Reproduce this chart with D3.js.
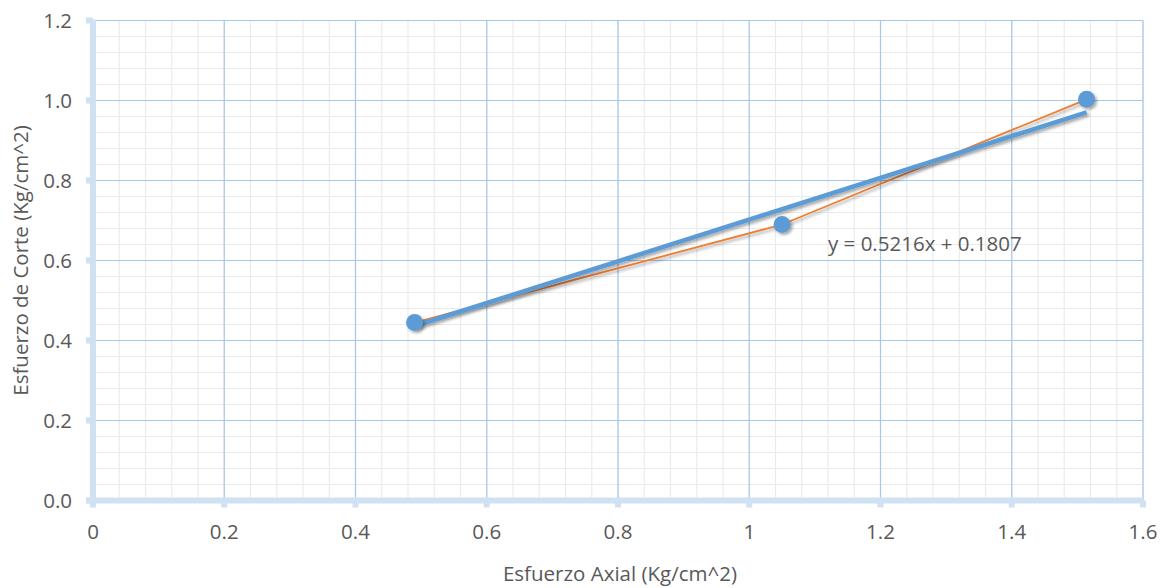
<!DOCTYPE html>
<html>
<head>
<meta charset="utf-8">
<script src="https://cdn.jsdelivr.net/npm/d3@7"></script>
<style>
  body { margin: 0; background: #fff; }
  text { font-family: "Open Sans", sans-serif; fill: #595959; }
</style>
</head>
<body>
<div class="container"></div>
<script>
let width = 1160
let height = 588
let margin = { left: 93, right: 17, top: 20.5, bottom: 87.5 }
let fontSize = 20.5

// data
const axial = [0.49, 1.05, 1.514]
const corte = [0.445, 0.69, 1.003]
const slope = 0.5216
const intercept = 0.1807
const xTicks = [0, 0.2, 0.4, 0.6, 0.8, 1, 1.2, 1.4, 1.6]
const yTicks = [0, 0.2, 0.4, 0.6, 0.8, 1.0, 1.2]
const equation = 'y = 0.5216x + 0.1807'

let svg = d3.select('.container')
    .append('svg')
    .attr('width', width)
    .attr('height', height)

let x = d3.scaleLinear().domain([0, 1.6]).range([margin.left, width - margin.right])
let y = d3.scaleLinear().domain([0, 1.2]).range([height - margin.bottom, margin.top])

let defs = svg.append('defs')
let shadow = defs.append('filter').attr('id', 'shadow')
    .attr('x', '-50%').attr('y', '-50%').attr('width', '200%').attr('height', '200%')
shadow.append('feDropShadow')
    .attr('dx', 2).attr('dy', 2).attr('stdDeviation', 1.5)
    .attr('flood-color', '#000').attr('flood-opacity', 0.35)

// minor grid
let xMinor = d3.range(0, 1.6001, 0.04)
let yMinor = d3.range(0, 1.2001, 0.04)
svg.append('g').selectAll('line').data(xMinor).enter().append('line')
    .attr('x1', d => x(d)).attr('x2', d => x(d))
    .attr('y1', y(0)).attr('y2', y(1.2))
    .attr('stroke', '#ebebeb').attr('stroke-width', 1.2)
svg.append('g').selectAll('line').data(yMinor).enter().append('line')
    .attr('x1', x(0)).attr('x2', x(1.6))
    .attr('y1', d => y(d)).attr('y2', d => y(d))
    .attr('stroke', '#ebebeb').attr('stroke-width', 1.2)

// major grid
svg.append('g').selectAll('line').data(xTicks).enter().append('line')
    .attr('x1', d => x(d)).attr('x2', d => x(d))
    .attr('y1', y(0)).attr('y2', y(1.2))
    .attr('stroke', '#a6c8ea').attr('stroke-width', 1.2)
svg.append('g').selectAll('line').data(yTicks).enter().append('line')
    .attr('x1', x(0)).attr('x2', x(1.6))
    .attr('y1', d => y(d)).attr('y2', d => y(d))
    .attr('stroke', '#a6c8ea').attr('stroke-width', 1.2)

// axes (thick light blue lines with square ticks)
let axisColor = '#cfe1f3'
svg.append('line')
    .attr('x1', x(0)).attr('x2', x(0))
    .attr('y1', y(1.2) - 1).attr('y2', y(0) + 3)
    .attr('stroke', axisColor).attr('stroke-width', 6)
svg.append('line')
    .attr('x1', x(0) - 7).attr('x2', x(1.6))
    .attr('y1', y(0)).attr('y2', y(0))
    .attr('stroke', axisColor).attr('stroke-width', 6)
svg.append('g').selectAll('rect').data(yTicks).enter().append('rect')
    .attr('x', x(0) - 7).attr('y', d => y(d) - 3)
    .attr('width', 7).attr('height', 6)
    .attr('fill', axisColor)
svg.append('g').selectAll('rect').data(xTicks).enter().append('rect')
    .attr('x', d => x(d) - 3).attr('y', y(0))
    .attr('width', 6).attr('height', 7)
    .attr('fill', axisColor)

// tick labels
svg.append('g').selectAll('text').data(yTicks).enter().append('text')
    .attr('x', x(0) - 21).attr('y', d => y(d))
    .attr('dy', '0.36em')
    .attr('text-anchor', 'end')
    .attr('font-size', fontSize)
    .text(d => d3.format('.1f')(d))
svg.append('g').selectAll('text').data(xTicks).enter().append('text')
    .attr('x', d => x(d)).attr('y', y(0) + 38.5)
    .attr('text-anchor', 'middle')
    .attr('font-size', fontSize)
    .text(d => String(d))

// axis titles
svg.append('text')
    .attr('x', (x(0) + x(1.6)) / 2 + 2).attr('y', 581)
    .attr('text-anchor', 'middle')
    .attr('font-size', fontSize)
    .text('Esfuerzo Axial (Kg/cm^2)')
svg.append('text')
    .attr('transform', `translate(28, ${(y(0) + y(1.2)) / 2}) rotate(-90)`)
    .attr('text-anchor', 'middle')
    .attr('font-size', fontSize)
    .text('Esfuerzo de Corte (Kg/cm^2)')

let points = axial.map((d, i) => ({ x: d, y: corte[i] }))

// series line (orange)
let line = d3.line().x(d => x(d.x)).y(d => y(d.y))
svg.append('path')
    .datum(points)
    .attr('d', line)
    .attr('fill', 'none')
    .attr('stroke', '#ed7d31')
    .attr('stroke-width', 1.8)
    .attr('filter', 'url(#shadow)')

// linear trendline
let xMin = d3.min(axial)
let xMax = d3.max(axial)
let trend = [xMin, xMax].map(v => ({ x: v, y: slope * v + intercept }))
svg.append('path')
    .datum(trend)
    .attr('d', line)
    .attr('fill', 'none')
    .attr('stroke', '#5b9bd5')
    .attr('stroke-width', 4.5)
    .attr('filter', 'url(#shadow)')

// markers
svg.append('g').selectAll('circle').data(points).enter().append('circle')
    .attr('cx', d => x(d.x))
    .attr('cy', d => y(d.y))
    .attr('r', 8.5)
    .attr('fill', '#5b9bd5')
    .attr('filter', 'url(#shadow)')

// equation label
svg.append('text')
    .attr('x', 828).attr('y', 251)
    .attr('font-size', fontSize)
    .text(equation)
</script>
</body>
</html>
